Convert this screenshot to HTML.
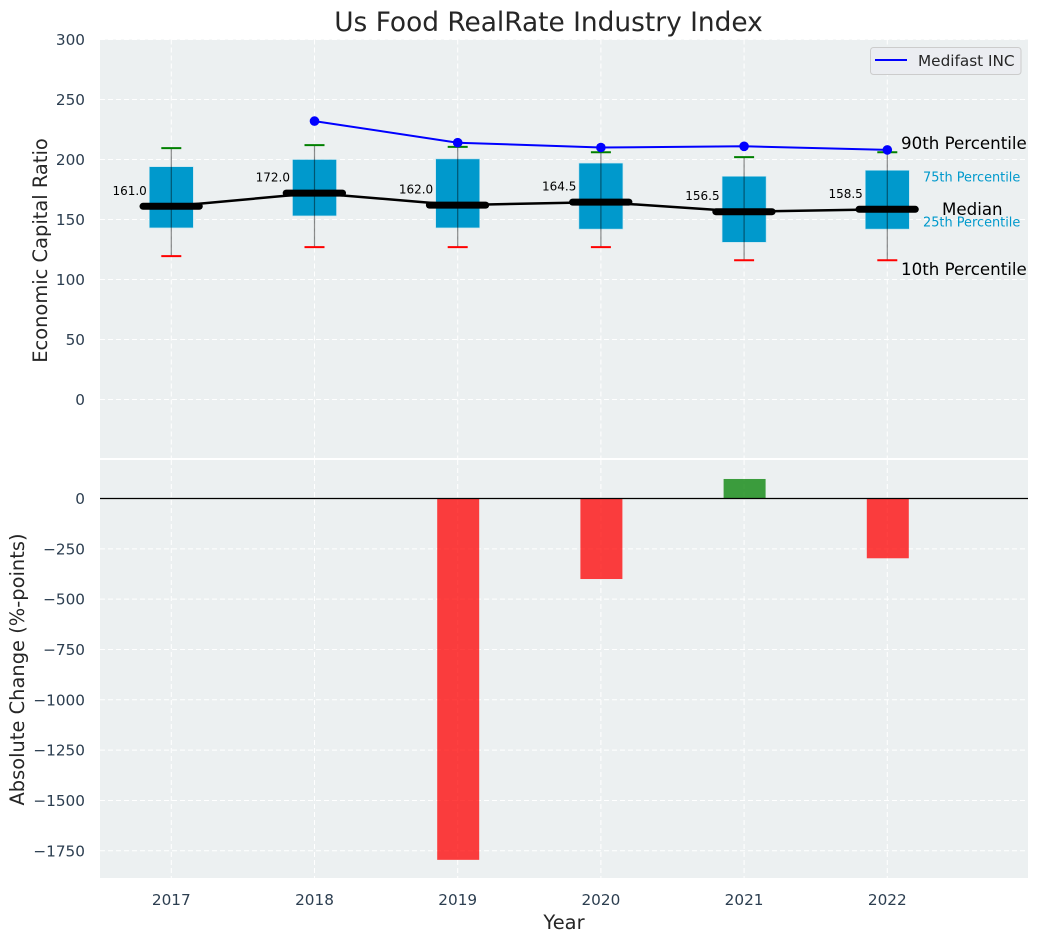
<!DOCTYPE html>
<html>
<head>
<meta charset="utf-8">
<style>
html,body{margin:0;padding:0;background:#fff;}
svg{display:block;font-family:"DejaVu Sans","Liberation Sans",sans-serif;}
</style>
</head>
<body>
<svg id="chart" xmlns="http://www.w3.org/2000/svg" width="1039" height="942" viewBox="0 0 1039 942"></svg>
<script>
const years = [2017, 2018, 2019, 2020, 2021, 2022];
const p90 = [209.5, 212, 210.5, 206, 202, 206];
const p75 = [194, 200, 200.5, 197, 186, 191];
const medians = [161, 172, 162, 164.5, 156.5, 158.5];
const p25 = [143, 153, 143, 142, 131, 142];
const p10 = [119.5, 127, 127, 127, 116, 116];
const companyYears = [2018, 2019, 2020, 2021, 2022];
const companyValues = [232, 214, 210, 211, 208];
const changeYears = [2019, 2020, 2021, 2022];
const changeValues = [-1795, -400, 97, -297];
const topTicks = [0, 50, 100, 150, 200, 250, 300];
const bottomTicks = [0, -250, -500, -750, -1000, -1250, -1500, -1750];

const NS = 'http://www.w3.org/2000/svg';
const svg = document.getElementById('chart');
function xAt(year) { return 171.3 + (year - 2017) * 143.2; }
function yTop(v) { return 399.5 - v * 1.2; }
function yBot(v) { return 498.5 - v * 0.2013; }
function make(tag, attrs, name, text) {
  const el = document.createElementNS(NS, tag);
  for (const k in attrs) el.setAttribute(k, attrs[k]);
  
  
  if (text !== undefined) el.textContent = text;
  svg.appendChild(el);
  return el;
}
function line(x1, y1, x2, y2, stroke, width, name, extra) {
  return make('line', Object.assign({ x1, y1, x2, y2, stroke, 'stroke-width': width }, extra || {}), name);
}
function label(x, y, str, size, fill, name, extra) {
  return make('text', Object.assign({ x, y, 'font-size': size, fill }, extra || {}), name, str);
}
const TICK = '#2c3e50';
const INK = '#262626';
const PANEL = '#ecf0f1';
const GRID = { 'stroke-dasharray': '5 3' };

// panels
make('rect', { x: 100, y: 39.5, width: 928, height: 418.5, fill: PANEL }, 'top-panel');
make('rect', { x: 100, y: 460, width: 928, height: 418, fill: PANEL }, 'bottom-panel');

// grid and tick labels
topTicks.forEach(function (t) {
  line(100, yTop(t), 1028, yTop(t), '#fff', 1, 'top-grid-line-y', GRID);
  label(85, yTop(t) + 5.5, String(t), 15.28, TICK, 'top-y-tick-label', { 'text-anchor': 'end' });
});
bottomTicks.forEach(function (t) {
  line(100, yBot(t), 1028, yBot(t), '#fff', 1, 'bottom-grid-line-y', GRID);
  label(85, yBot(t) + 5.5, String(t).replace('-', '\u2212'), 15.28, TICK, 'bottom-y-tick-label', { 'text-anchor': 'end' });
});
years.forEach(function (y) {
  line(xAt(y), 39.5, xAt(y), 458, '#fff', 1, 'top-grid-line-x', GRID);
  line(xAt(y), 460, xAt(y), 878, '#fff', 1, 'bottom-grid-line-x', GRID);
  label(xAt(y), 905, String(y), 15.28, TICK, 'x-tick-label', { 'text-anchor': 'middle' });
});

// median connecting line
make('polyline', {
  points: years.map(function (y, i) { return xAt(y) + ',' + yTop(medians[i]); }).join(' '),
  fill: 'none', stroke: '#000', 'stroke-width': 2.5
}, 'median-trend-line');

// box plots
years.forEach(function (y, i) {
  const x = xAt(y);
  make('rect', { x: x - 22, y: yTop(p75[i]), width: 44, height: yTop(p25[i]) - yTop(p75[i]), fill: '#0099cc', stroke: '#bfe3ef', 'stroke-width': 0.6 }, 'box-' + y);
  line(x, yTop(p90[i]), x, yTop(p10[i]), '#000', 1.2, 'whisker-' + y, { 'stroke-opacity': 0.45 });
  line(x - 10, yTop(p90[i]), x + 10, yTop(p90[i]), 'green', 2, 'cap-90th-' + y);
  line(x - 10, yTop(p10[i]), x + 10, yTop(p10[i]), 'red', 2, 'cap-10th-' + y);
  line(x - 28.3, yTop(medians[i]), x + 28, yTop(medians[i]), '#000', 7, 'median-bar-' + y, { 'stroke-linecap': 'round' });
  label(x - 24.5, yTop(medians[i]) - 11.5, medians[i].toFixed(1), 12, '#000', 'median-label-' + y, { 'text-anchor': 'end' });
});

// company line
make('polyline', {
  points: companyYears.map(function (y, i) { return xAt(y) + ',' + yTop(companyValues[i]); }).join(' '),
  fill: 'none', stroke: '#0000ff', 'stroke-width': 2
}, 'medifast-line');
companyYears.forEach(function (y, i) {
  make('circle', { cx: xAt(y), cy: yTop(companyValues[i]), r: 4.8, fill: '#0000ff' }, 'medifast-point-' + y);
});

// percentile annotations
label(901, 149, '90th Percentile', 16.67, '#000', 'annotation-90th-percentile');
label(923, 181.5, '75th Percentile', 12.9, '#0099cc', 'annotation-75th-percentile');
label(942, 215, 'Median', 16.67, '#000', 'annotation-median');
label(923, 226.5, '25th Percentile', 12.9, '#0099cc', 'annotation-25th-percentile');
label(901, 275, '10th Percentile', 16.67, '#000', 'annotation-10th-percentile');

// change bars
changeYears.forEach(function (y, i) {
  const v = changeValues[i];
  const top = Math.min(yBot(v), yBot(0));
  const h = Math.abs(yBot(v) - yBot(0));
  make('rect', { x: xAt(y) - 20.5, y: top, width: 42, height: h, fill: v < 0 ? '#ff0000' : '#008000', 'fill-opacity': 0.75 }, 'change-bar-' + y);
});
line(100, yBot(0), 1028, yBot(0), '#000', 1.2, 'zero-line');

// titles
label(548.5, 31, 'Us Food RealRate Industry Index', 26.4, INK, 'chart-title', { 'text-anchor': 'middle' });
label(564, 929, 'Year', 19.44, INK, 'x-axis-title', { 'text-anchor': 'middle' });
label(47, 250.5, 'Economic Capital Ratio', 19.44, INK, 'top-y-axis-title', { 'text-anchor': 'middle', transform: 'rotate(-90 47 250.5)' });
label(24, 669.5, 'Absolute Change (%-points)', 19.44, INK, 'bottom-y-axis-title', { 'text-anchor': 'middle', transform: 'rotate(-90 24 669.5)' });

// legend
make('rect', { x: 870.5, y: 47.5, width: 150.5, height: 27, rx: 3, fill: '#ebedf1', stroke: '#cccccc', 'stroke-width': 1 }, 'legend-box');
line(875, 60, 907, 60, '#0000ff', 2, 'legend-line-medifast');
label(918, 66, 'Medifast INC', 15.28, INK, 'legend-label-medifast');
</script>
</body>
</html>
